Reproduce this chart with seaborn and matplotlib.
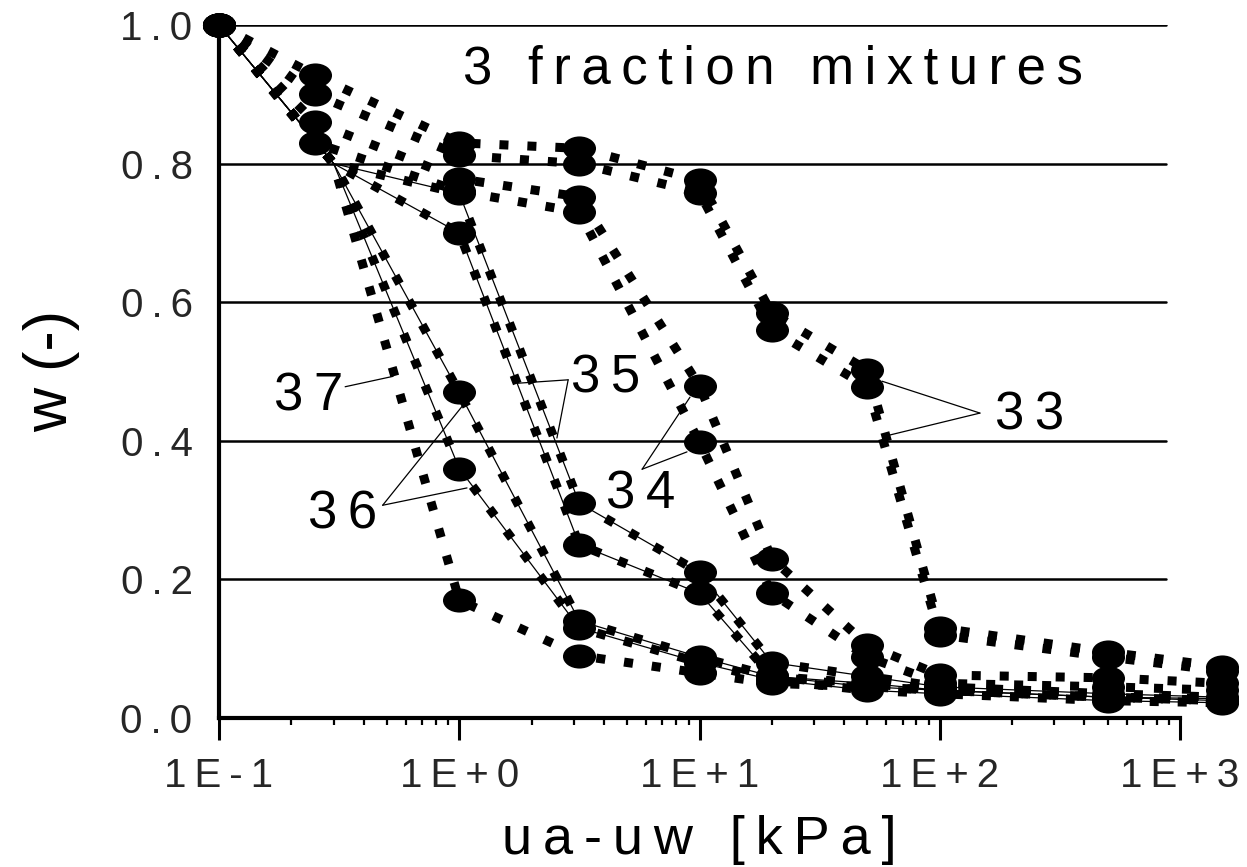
import matplotlib
matplotlib.use("Agg")
import matplotlib.pyplot as plt
import seaborn as sns
import numpy as np
from matplotlib.path import Path
from matplotlib.transforms import Affine2D
from matplotlib.ticker import LogLocator, NullFormatter

# suction steps [kPa]; thin curves bend at 0.3 kPa where no symbol is drawn
p_meas = [0.1, 0.25, 1, 3.16, 10, 20, 50, 100, 500, 1500]
p_knee = [0.1, 0.3, 1, 3.16, 10, 20, 50, 100, 500, 1500]

w_33a = [1.0, 0.928, 0.830, 0.822, 0.776, 0.584, 0.502, 0.130, 0.095, 0.074]
w_33b = [1.0, 0.900, 0.812, 0.800, 0.758, 0.560, 0.478, 0.120, 0.088, 0.068]
w_34a = [1.0, 0.860, 0.778, 0.752, 0.479, 0.230, 0.105, 0.062, 0.058, 0.050]
w_34b = [1.0, 0.830, 0.760, 0.730, 0.398, 0.180, 0.088, 0.050, 0.045, 0.040]
w_35a = [1.0, 0.800, 0.757, 0.310, 0.210, 0.080, 0.060, 0.045, 0.035, 0.030]
w_35b = [1.0, 0.800, 0.700, 0.250, 0.180, 0.060, 0.050, 0.040, 0.030, 0.025]
w_36a = [1.0, 0.800, 0.470, 0.140, 0.088, 0.060, 0.045, 0.040, 0.030, 0.028]
w_36b = [1.0, 0.800, 0.360, 0.130, 0.080, 0.055, 0.040, 0.035, 0.025, 0.022]
w_37 = [1.0, 0.800, 0.170, 0.090, 0.065, 0.050, 0.045, 0.040, 0.030, 0.025]

x_ticks = [0.1, 1, 10, 100, 1000]
x_tick_labels = ["1E-1", "1E+0", "1E+1", "1E+2", "1E+3"]
y_ticks = [0.0, 0.2, 0.4, 0.6, 0.8, 1.0]
y_tick_labels = ["0.0", "0.2", "0.4", "0.6", "0.8", "1.0"]

# curve label, text anchor, pointer start, pointer ends
labels = [
    ("33", (237.0, 0.416), (147.0, 0.440), [(57.5, 0.486), (58.1, 0.406)]),
    ("34", (5.71, 0.303), (5.77, 0.359), [(9.13, 0.463), (8.87, 0.384)]),
    ("35", (4.08, 0.470), (2.84, 0.488), [(1.74, 0.483), (2.55, 0.404)]),
    ("36", (0.328, 0.274), (0.48, 0.307), [(1.057, 0.455), (1.077, 0.332)]),
    ("37", (0.237, 0.444), (0.335, 0.478), [(0.53, 0.493)]),
]


def sp(s):
    # letter-spaced look of the original
    return "\u2009".join(s)


sns.set_theme(style="white")
plt.rcParams["font.family"] = ["Liberation Sans", "DejaVu Sans"]

fig = plt.figure(figsize=(12.47, 8.67), dpi=100)
ax = fig.add_axes([219 / 1247, 1 - 718 / 867, 961 / 1247, 693 / 867])

ellipse = Path.unit_circle().transformed(Affine2D().scale(1, 0.73))
dotted = (0, (1, 2.1))

curves = [
    (p_meas, w_33a, False), (p_meas, w_33b, False),
    (p_meas, w_34a, False), (p_meas, w_34b, False),
    (p_knee, w_35a, True), (p_knee, w_35b, True),
    (p_knee, w_36a, True), (p_knee, w_36b, True),
    (p_knee, w_37, False),
]

for x, y, thin in curves:
    sns.lineplot(x=x, y=y, ax=ax, color="black", lw=6.5, linestyle=dotted,
                 dash_capstyle="butt", estimator=None, sort=False,
                 clip_on=False, zorder=3)
    if thin:
        sns.lineplot(x=x, y=y, ax=ax, color="black", lw=0.9,
                     estimator=None, sort=False, clip_on=False, zorder=3)
    mx = [a for a in x if a in p_meas]
    my = [b for a, b in zip(x, y) if a in p_meas]
    sns.scatterplot(x=mx, y=my, ax=ax, marker=ellipse, s=566, color="black",
                    linewidth=0, clip_on=False, zorder=4)

ax.set_xscale("log")
ax.set_xlim(0.1, 1000)
ax.set_ylim(0, 1)

ax.set_xticks(x_ticks)
ax.set_xticklabels([sp(t) for t in x_tick_labels])
ax.xaxis.set_minor_locator(LogLocator(base=10, subs=np.arange(2, 10)))
ax.xaxis.set_minor_formatter(NullFormatter())
ax.set_yticks(y_ticks)
ax.set_yticklabels([sp(t) for t in y_tick_labels])

ax.tick_params(axis="x", which="major", direction="out", length=16, width=2.2,
               pad=12, labelsize=29, color="black", bottom=True)
ax.tick_params(axis="x", which="minor", direction="out", length=5, width=1.6,
               color="black", bottom=True)
ax.tick_params(axis="y", length=0, pad=19, labelsize=29)

for side in ["top", "right"]:
    ax.spines[side].set_visible(False)
for side in ["left", "bottom"]:
    ax.spines[side].set_color("black")
    ax.spines[side].set_linewidth(3)

# horizontal rules stop a little short of the axis end
for yv in y_ticks[1:]:
    ax.axhline(yv, xmin=0, xmax=0.985, color="black", lw=1.8, zorder=1)

ax.set_xlabel(sp("ua-uw [kPa]"), fontsize=39, color="black")
ax.xaxis.label.set_va("baseline")
ax.xaxis.set_label_coords(0.5, -0.196)
ax.set_ylabel("w (-)", fontsize=44, color="black")
ax.yaxis.label.set_va("baseline")
ax.yaxis.set_label_coords(-0.158, 0.5)

ax.text(20.2, 0.916, sp("3 fraction mixtures"), fontsize=38, ha="center",
        va="baseline", color="black")

for txt, pos, start, ends in labels:
    ax.text(pos[0], pos[1], sp(txt), fontsize=38, ha="center", va="baseline",
            color="black", zorder=5)
    for end in ends:
        ax.annotate("", xy=end, xytext=start,
                    arrowprops=dict(arrowstyle="-", lw=0.9, color="black",
                                    shrinkA=0, shrinkB=0))

fig.savefig("out.png", dpi=100)
